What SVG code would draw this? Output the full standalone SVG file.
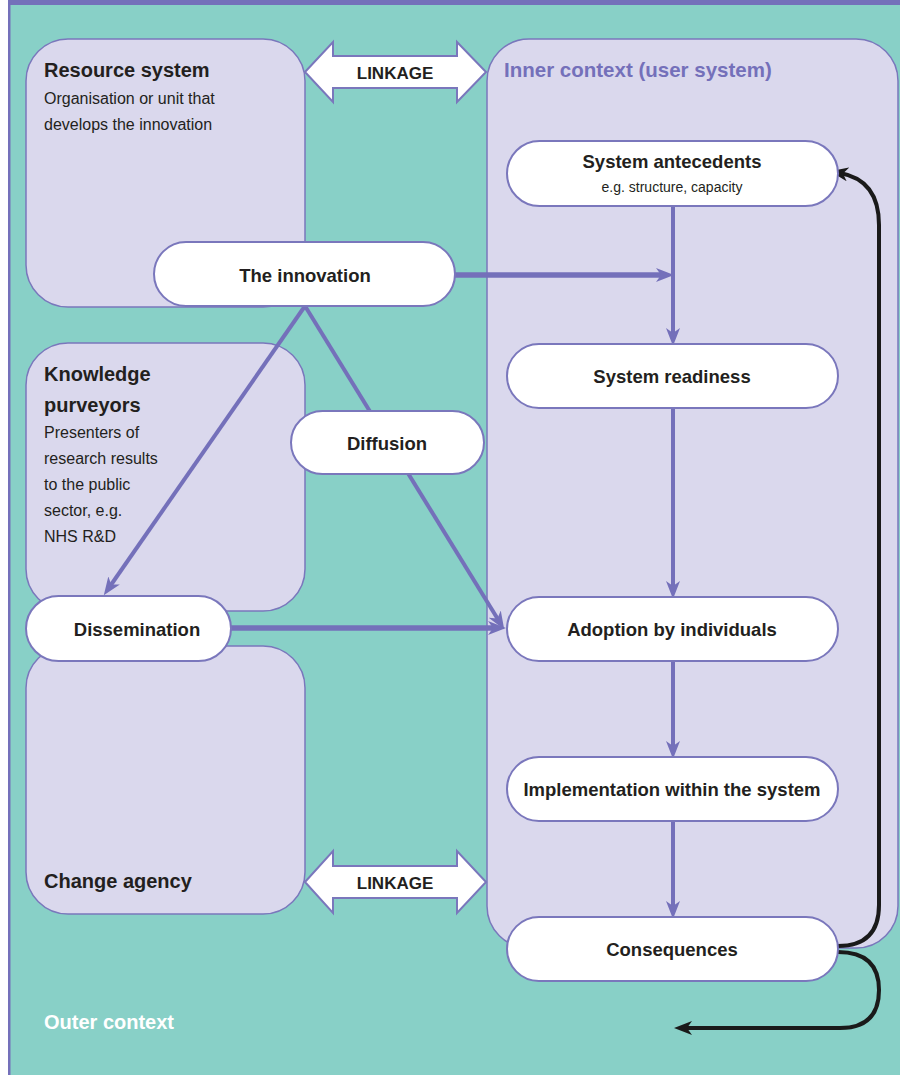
<svg xmlns="http://www.w3.org/2000/svg" width="900" height="1075" viewBox="0 0 900 1075">
<style>
.box{fill:#DAD8ED;stroke:#7A77BC;stroke-width:1.5}
.node{fill:#FFFFFF;stroke:#7A77BC;stroke-width:2}
.link{fill:#FFFFFF;stroke:#7A77BC;stroke-width:2;stroke-linejoin:miter}
.t{font-family:"Liberation Sans",Arial,sans-serif;fill:#231F20}
.title{font-size:20px;font-weight:bold}
.desc{font-size:16px}
.lbl{font-size:18.5px;font-weight:bold;text-anchor:middle}
.sub{font-size:14px;text-anchor:middle}
.pl{stroke:#7470BA;fill:none;stroke-width:4}
.pw{stroke:#7470BA;fill:none;stroke-width:5.5}
.bl{stroke:#1A1A1A;fill:none;stroke-width:4}
</style>
<defs>
<marker id="ap" viewBox="0 0 18 14" refX="8" refY="7" markerWidth="18" markerHeight="14" orient="auto" markerUnits="userSpaceOnUse">
<path d="M0,0 L18,7 L0,14 L5,7 z" fill="#7470BA"/>
</marker>
<marker id="ab" viewBox="0 0 18 14" refX="8" refY="7" markerWidth="18" markerHeight="14" orient="auto" markerUnits="userSpaceOnUse">
<path d="M0,0 L18,7 L0,14 L5,7 z" fill="#1A1A1A"/>
</marker>
</defs>
<rect x="0" y="0" width="900" height="1075" fill="#FFFFFF"/>
<rect x="9" y="0" width="891" height="1075" fill="#88D0C7"/>
<rect x="8" y="0" width="892" height="5" fill="#7470BA"/>
<rect x="8" y="0" width="2.5" height="1075" fill="#7470BA"/>

<g id="resource-system">
<rect class="box" x="26" y="39" width="279" height="268" rx="42"/>
<text class="t title" x="44" y="77">Resource system</text>
<text class="t desc" x="44" y="104">Organisation or unit that</text>
<text class="t desc" x="44" y="130">develops the innovation</text>
</g>
<g id="knowledge-purveyors">
<rect class="box" x="26" y="343" width="279" height="268" rx="42"/>
<text class="t title" x="44" y="381">Knowledge</text>
<text class="t title" x="44" y="412">purveyors</text>
<text class="t desc" x="44" y="438">Presenters of</text>
<text class="t desc" x="44" y="464">research results</text>
<text class="t desc" x="44" y="490">to the public</text>
<text class="t desc" x="44" y="516">sector, e.g.</text>
<text class="t desc" x="44" y="542">NHS R&amp;D</text>
</g>
<g id="change-agency">
<rect class="box" x="26" y="646" width="279" height="268" rx="42"/>
<text class="t title" x="44" y="888">Change agency</text>
</g>
<g id="inner-context">
<rect class="box" x="487" y="39" width="411" height="909" rx="42"/>
<text class="t title" x="504" y="77" style="fill:#7470BA;font-size:20.5px">Inner context (user system)</text>
</g>
<g id="outer-context">
<text class="t title" x="44" y="1029" style="fill:#FFFFFF">Outer context</text>
</g>

<g id="connectors">
<line class="pw" x1="455" y1="275" x2="664" y2="275" marker-end="url(#ap)"/>
<line class="pl" x1="673" y1="206" x2="673" y2="336" marker-end="url(#ap)"/>
<line class="pl" x1="673" y1="408" x2="673" y2="589" marker-end="url(#ap)"/>
<line class="pl" x1="673" y1="661" x2="673" y2="749" marker-end="url(#ap)"/>
<line class="pl" x1="673" y1="821" x2="673" y2="909" marker-end="url(#ap)"/>
<line class="pl" x1="305" y1="306" x2="109.5" y2="587" marker-end="url(#ap)"/>
<line class="pl" x1="305" y1="306" x2="499" y2="621" marker-end="url(#ap)"/>
<line class="pw" x1="231" y1="628" x2="496" y2="628" marker-end="url(#ap)"/>
<path class="bl" d="M838,946 Q879,946 879,905 L879,225 Q879,180 840,173" marker-end="url(#ab)"/>
<path class="bl" d="M838,952 Q879,952 879,990 Q879,1028 840,1028 L684,1028" marker-end="url(#ab)"/>
</g>

<g id="the-innovation">
<rect class="node" x="154" y="242" width="301" height="64" rx="32"/>
<text class="t lbl" x="305" y="282">The innovation</text>
</g>
<g id="system-antecedents">
<rect class="node" x="507" y="141" width="331" height="65" rx="32.5"/>
<text class="t lbl" x="672" y="168">System antecedents</text>
<text class="t sub" x="672" y="192">e.g. structure, capacity</text>
</g>
<g id="system-readiness">
<rect class="node" x="507" y="344" width="331" height="64" rx="32"/>
<text class="t lbl" x="672" y="383">System readiness</text>
</g>
<g id="diffusion">
<rect class="node" x="291" y="411" width="193" height="63" rx="31.5"/>
<text class="t lbl" x="387" y="450">Diffusion</text>
</g>
<g id="dissemination">
<rect class="node" x="26" y="596" width="205" height="65" rx="32.5"/>
<text class="t lbl" x="137" y="636">Dissemination</text>
</g>
<g id="adoption">
<rect class="node" x="507" y="597" width="331" height="64" rx="32"/>
<text class="t lbl" x="672" y="636">Adoption by individuals</text>
</g>
<g id="implementation">
<rect class="node" x="507" y="757" width="331" height="64" rx="32"/>
<text class="t lbl" x="672" y="796">Implementation within the system</text>
</g>
<g id="consequences">
<rect class="node" x="507" y="917" width="331" height="64" rx="32"/>
<text class="t lbl" x="672" y="956">Consequences</text>
</g>
<g id="linkage-top">
<polygon class="link" points="305,72 333,42 333,56 457,56 457,42 486,72 457,102 457,88 333,88 333,102"/>
<text class="t lbl" x="395" y="79" style="font-size:17px">LINKAGE</text>
</g>
<g id="linkage-bottom">
<polygon class="link" points="305,882 333,851 333,866 457,866 457,851 486,882 457,913 457,898 333,898 333,913"/>
<text class="t lbl" x="395" y="889" style="font-size:17px">LINKAGE</text>
</g>
</svg>
